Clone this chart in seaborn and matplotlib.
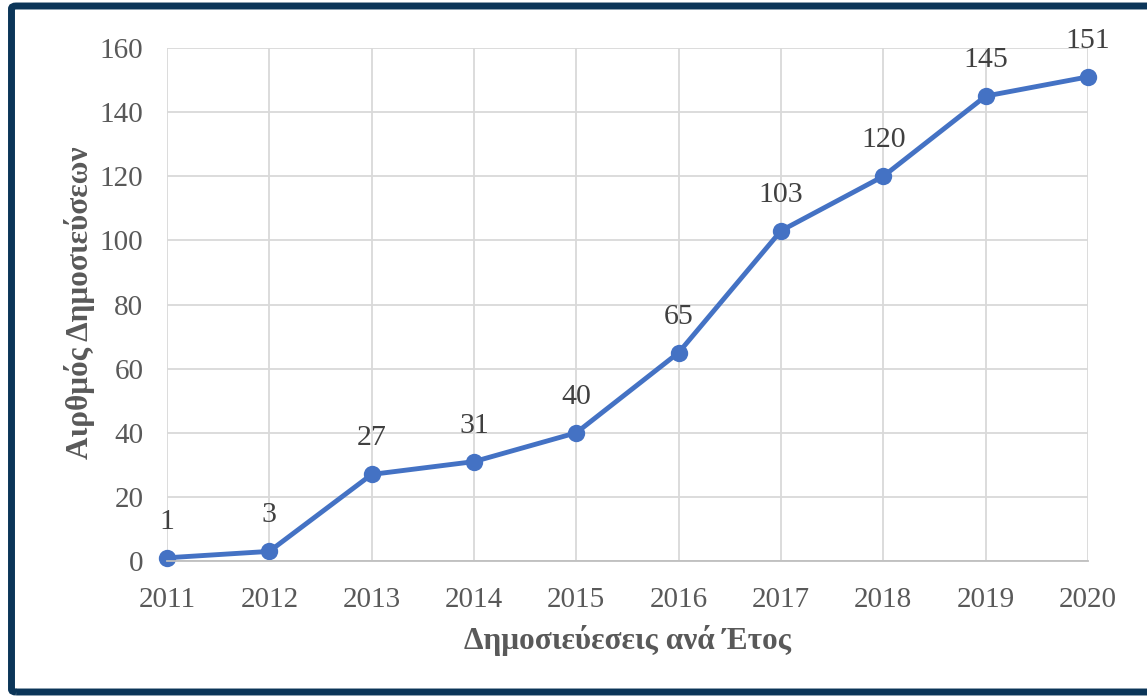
import matplotlib
matplotlib.use("Agg")
import matplotlib.pyplot as plt
import seaborn as sns
import pandas as pd
from matplotlib.patches import FancyBboxPatch

years = [2011, 2012, 2013, 2014, 2015, 2016, 2017, 2018, 2019, 2020]
publications = [1, 3, 27, 31, 40, 65, 103, 120, 145, 151]
y_ticks = [0, 20, 40, 60, 80, 100, 120, 140, 160]
x_label = "Δημοσιεύεσεις ανά Έτος"
y_label = "Αιρθμός Δημοσιεύσεων"

df = pd.DataFrame({"year": years, "count": publications})

sns.set_theme(style="white")
plt.rcParams["font.family"] = ["Liberation Serif", "DejaVu Serif"]

W, H = 1147, 697
fig = plt.figure(figsize=(W/100, H/100), dpi=100)
ax = fig.add_axes([167/W, 1 - 561/H, (1088-167)/W, (561-48)/H])

sns.lineplot(data=df, x="year", y="count", ax=ax, color="#4472C4",
             linewidth=3.5, marker="o", markersize=12.5, markeredgewidth=0)
for ln in ax.lines:
    ln.set_clip_on(False)

for x, y in zip(years, publications):
    ax.annotate(str(y), (x, y), xytext=(0, 36), textcoords="offset pixels",
                ha="center", va="center", fontsize=21.5, color="#404040")

ax.set_xlim(2011, 2020)
ax.set_ylim(0, 160)
ax.set_xticks(years)
ax.set_xticklabels([str(y) for y in years])
ax.set_yticks(y_ticks)
ax.grid(True, color="#D9D9D9", linewidth=1.3)
ax.set_axisbelow(True)
for s in ["top", "right", "left"]:
    ax.spines[s].set_visible(False)
ax.spines["bottom"].set_color("#BFBFBF")
ax.spines["bottom"].set_linewidth(1.3)
ax.tick_params(axis="both", labelsize=21, colors="#595959", length=0)
ax.tick_params(axis="y", pad=17)
ax.tick_params(axis="x", pad=19)

ax.set_xlabel(x_label, fontsize=22.5, fontweight="bold", color="#595959")
ax.set_ylabel(y_label, fontsize=22.5, fontweight="bold", color="#595959")
ax.xaxis.set_label_coords((628-167)/(1088-167), -(640-561)/(561-48))
ax.yaxis.set_label_coords(-(167-80)/(1088-167), (561-303)/(561-48))
ax.xaxis.label.set_va("center")
ax.yaxis.label.set_va("center")

# frame border
fig.patches.append(FancyBboxPatch((11.5/W, 5/H), 1150/W, 686/H,
                                  boxstyle="round,pad=0,rounding_size=0.004",
                                  transform=fig.transFigure, fill=False,
                                  edgecolor="#0B3558", linewidth=5, clip_on=False))

fig.savefig("out.png", dpi=100, facecolor="white")
